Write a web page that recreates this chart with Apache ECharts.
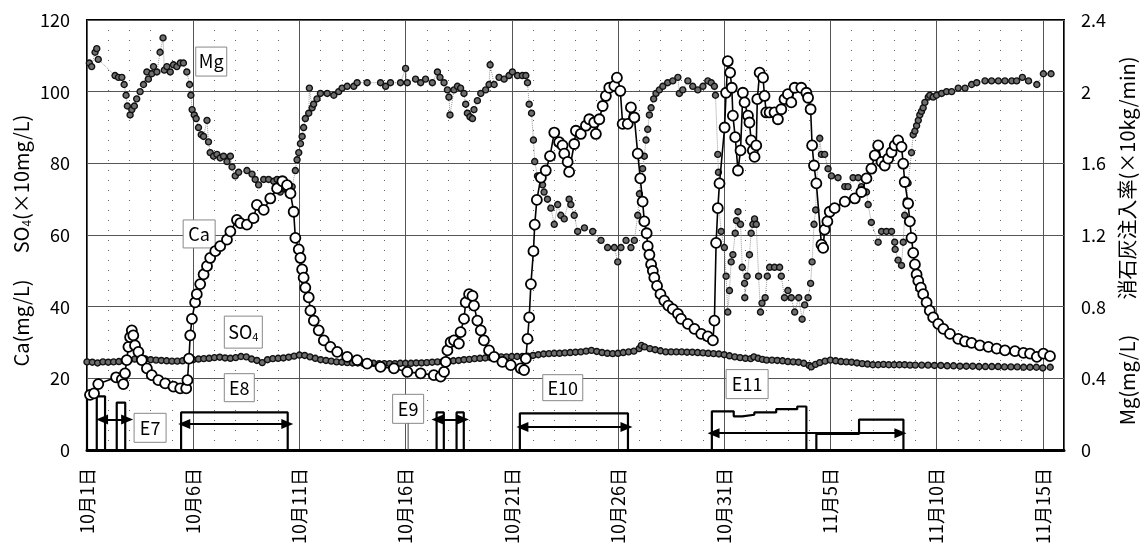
<!DOCTYPE html>
<html>
<head>
<meta charset="utf-8">
<script src="https://cdn.jsdelivr.net/npm/echarts@6/dist/echarts.min.js"></script>
<style>
html,body{margin:0;padding:0;background:#fff}
#chart{width:1141px;height:547px}
</style>
</head>
<body>
<div id="chart"></div>
<script>
// x axis: days counted from 10月1日 (day 0); labels every 5 days
const dateLabels = ['10月1日','10月6日','10月11日','10月16日','10月21日','10月26日','10月31日','11月5日','11月10日','11月15日'];
const rightTickLabels = ['0','0.4','0.8','1.2','1.6','2','2.4'];

// Ca (mg/L) : [day, value]
const caData = [
[0.14,15.4],[0.33,15.8],[0.53,18.4],[1.37,20.3],[1.64,19.7],[1.71,18.4],[1.79,21.4],[1.87,25.1],[1.95,28.8],[2.03,31.5],[2.11,33.4],[2.18,32],[2.26,29.2],[2.42,27.4],[2.58,25.1],[2.82,22.8],[3.05,20.9],[3.36,19.5],[3.68,18.6],[4.07,17.7],[4.39,17.2],[4.67,17.2],[4.73,19.5],[4.8,25.5],[4.86,32],[4.94,36.6],[5.09,41.2],[5.17,43.5],[5.33,46.3],[5.49,49],[5.65,51.3],[5.8,53.6],[6.04,55.5],[6.27,56.9],[6.59,58.7],[6.75,61],[7.06,64.2],[7.22,63.3],[7.53,62.9],[7.84,64.7],[8.0,68.4],[8.32,67],[8.63,70.2],[8.95,73],[9.2,75],[9.42,73.9],[9.58,71.6],[9.73,66.5],[9.81,59.2],[9.97,56],[10.05,53.6],[10.13,50.4],[10.2,48.1],[10.28,45.3],[10.44,42.6],[10.52,38.9],[10.68,36.1],[10.91,33.4],[11.15,30.6],[11.46,28.8],[11.78,27.4],[12.25,26],[12.72,25.1],[13.19,24.1],[13.82,23.2],[14.45,22.8],[15.08,21.8],[15.71,21.4],[16.33,20.9],[16.65,20.5],[16.81,21.8],[16.89,24.6],[16.97,27.8],[17.12,30.1],[17.28,30.6],[17.51,29.7],[17.59,32.9],[17.75,36.6],[17.83,41.2],[17.99,43.5],[18.15,43],[18.22,40.3],[18.38,36.1],[18.54,33.4],[18.69,30.6],[18.93,27.8],[19.17,26],[19.56,24.6],[19.95,23.7],[20.42,22.8],[20.58,22.3],[20.66,25.5],[20.74,31],[20.82,37],[20.9,46.3],[21.02,55.5],[21.08,62.9],[21.18,69.8],
[21.37,76],[21.6,78],[21.8,82],[22.0,88.6],[22.23,85.9],[22.39,85],[22.47,82.7],[22.63,80.4],[22.7,77.6],[22.94,85.4],[23.02,89.1],[23.25,88.2],[23.49,90.5],[23.65,92.3],[23.88,91.4],[23.96,88.2],[24.12,92.3],[24.28,96],[24.43,98.8],[24.59,101.1],[24.83,101.6],[24.95,103.9],[25.11,100.2],[25.22,91],[25.46,91],[25.61,95.6],[25.77,92.8],[25.93,82.7],[26.05,75.8],[26.16,69.3],[26.24,63.8],[26.35,60.5],[26.4,56.9],[26.48,54.5],[26.56,51.8],[26.64,50],[26.71,48.1],[26.84,45.8],[27.0,43.5],[27.18,41.7],[27.37,40.3],[27.58,39.3],[27.82,38],[27.97,36.6],[28.29,35.2],[28.6,33.8],[28.92,32.4],[29.23,31.7],[29.47,30.6],[29.54,36.1],[29.62,57.8],[29.7,67.5],[29.78,74.4],[30.02,90],[30.09,99.7],[30.17,108.5],[30.28,105.3],[30.36,101.1],[30.41,93.3],[30.52,87.3],[30.65,78],[30.77,83.6],[30.88,99.7],[30.96,97],[31.12,93.3],[31.19,91.4],[31.27,86.4],[31.35,83.6],[31.43,81.8],[31.51,85],[31.56,97.9],[31.67,105.3],[31.83,103.9],[31.9,98.8],[31.98,94.2],[32.14,94.2],[32.37,94.2],[32.53,92.3],[32.69,95.1],[32.84,97.9],[33.0,99.3],[33.16,97],[33.32,101.1],[33.63,101.1],[33.87,99.7],[33.95,98.3],[34.07,95.1],[34.14,85],[34.23,79.4],[34.34,74.4],[34.58,57.3],[34.66,56.4],[34.73,61.5],[34.86,63.8],[34.97,66.5],[35.2,67.5],[35.68,69.3],[36.15,70.2],[36.46,72],[36.7,75.8],[36.93,78.5],[37.09,82.2],[37.25,85],[37.41,80.4],[37.56,79.4],[37.72,81.3],[37.88,83.1],[38.03,85],[38.19,86.4],[38.35,84.6],[38.43,79.9],[38.5,74.8],[38.66,68.8],[38.74,63.8],[38.82,59.2],[38.9,55],[38.98,51.8],[39.06,49],[39.14,47.2],[39.26,45.3],[39.37,43.5],[39.53,41.2],[39.68,38.9],[39.84,37],[40.08,35.2],[40.32,33.8],[40.63,32.4],[41.02,31],[41.34,30.3],[41.65,29.9],[42.04,29.2],[42.44,28.8],[42.83,28.3],[43.22,27.8],[43.69,27.6],[44.09,27.1],[44.4,26.9],[44.72,26],[45.03,26.9],[45.34,26.2]
];

// SO4 (×10mg/L) : [day, value]
const so4Data = [
[0,24.6],[0.25,24.5],[0.5,24.3],[0.75,24.6],[1,24.5],[1.25,24.6],[1.5,24.7],[1.75,24.9],[2,25.1],[2.25,25.4],[2.5,25.6],[2.75,25.4],[3,25.2],[3.25,25.1],[3.5,25],[3.75,24.9],[4,24.8],[4.25,24.8],[4.5,24.9],[4.75,25.1],[5,25.2],[5.25,25.4],[5.5,25.5],[5.75,25.6],[6,25.8],[6.25,25.9],[6.5,25.7],[6.75,25.6],[7,25.8],[7.25,26.1],[7.5,26],[7.75,25.4],[8,25],[8.25,24.4],[8.5,25.2],[8.75,25.5],[9,25.6],[9.25,25.7],[9.5,25.9],[9.75,26.2],[10,26.5],[10.25,26.4],[10.5,26],[10.75,25.6],[11,25.2],[11.25,25],[11.5,24.8],[11.75,24.6],[12,24.5],[12.25,24.4],[12.5,24.3],[12.75,24.3],[13,24.2],[13.25,24.2],[13.5,24.2],[13.75,24.1],[14,24.1],[14.25,24.1],[14.5,24.1],[14.75,24.2],[15,24.2],[15.25,24.2],[15.5,24.3],[15.75,24.3],[16,24.4],[16.25,24.5],[16.5,24.6],[16.75,24.7],[17,24.8],[17.25,24.9],[17.5,25],[17.75,25.2],[18,25.3],[18.25,25.5],[18.5,25.6],[18.75,25.7],[19,25.8],[19.25,25.9],[19.5,26],[19.75,26],[20,26.1],[20.25,26.1],[20.5,26.1],[20.75,26.2],[21,26.4],[21.25,26.6],[21.5,26.8],[21.75,26.9],[22,27],[22.25,27],[22.5,27.1],[22.75,27.2],[23,27.3],[23.25,27.4],[23.5,27.6],[23.75,27.8],[24,27.5],[24.25,27.2],[24.5,27],[24.75,26.9],[25,27],[25.25,27.2],[25.5,27.4],[25.75,27.6],[26,28.3],[26.1,29.2],[26.25,28.8],[26.5,28.3],[26.75,28],[27,27.7],[27.25,27.4],[27.5,27.4],[27.75,27.4],[28,27.4],[28.25,27.3],[28.5,27.3],[28.75,27.2],[29,27.1],[29.25,27],[29.5,26.9],[29.75,26.8],[30,26.6],[30.25,26.3],[30.5,26],[30.75,25.8],[31,25.6],[31.25,25.5],[31.4,26],[31.6,25.6],[31.8,25.3],[32,25.1],[32.25,25.1],[32.5,25],[32.75,24.9],[33,24.7],[33.25,24.6],[33.5,24.5],[33.75,24.2],[34,23.6],[34.1,23.2],[34.3,23.9],[34.5,24.4],[34.75,24.8],[35,25.1],[35.25,24.9],[35.5,24.7],[35.75,24.6],[36,24.5],[36.25,24.3],[36.5,24.1],[36.75,24],[37,23.8],[37.25,23.8],[37.5,23.9],[37.75,23.8],[38,23.8],[38.25,23.8],[38.5,23.8],[38.75,23.7],[39,23.7],[39.3,23.7],[39.6,23.7],[39.9,23.6],[40.2,23.6],[40.5,23.5],[40.8,23.5],[41.1,23.4],[41.4,23.4],[41.7,23.4],[42,23.3],[42.3,23.3],[42.6,23.3],[42.9,23.3],[43.2,23.2],[43.5,23.2],[43.8,23.2],[44.1,23.1],[44.4,23.1],[44.7,23.1],[45,22.9],[45.35,23.1]
];

// Mg (mg/L, right axis) : [day, value]
const mgData = [
[0.11,2.16],[0.22,2.14],[0.38,2.22],[0.46,2.24],[0.53,2.18],[1.32,2.09],[1.48,2.08],[1.64,2.08],[1.75,2.04],[1.84,1.98],[1.9,1.92],[2.03,1.87],[2.11,1.9],[2.23,1.92],[2.34,1.96],[2.5,2.0],[2.66,2.04],[2.82,2.11],[2.89,2.07],[3.05,2.1],[3.13,2.14],[3.29,2.11],[3.44,2.22],[3.58,2.3],[3.64,2.12],[3.76,2.14],[3.92,2.11],[4.07,2.15],[4.23,2.14],[4.39,2.16],[4.54,2.16],[4.7,2.11],[4.83,2.04],[4.89,1.98],[4.95,1.9],[5.05,1.87],[5.14,1.85],[5.25,1.8],[5.38,1.76],[5.49,1.75],[5.65,1.84],[5.72,1.72],[5.8,1.66],[5.96,1.64],[6.12,1.65],[6.27,1.63],[6.43,1.64],[6.59,1.61],[6.75,1.64],[6.83,1.58],[6.98,1.53],[7.14,1.55],[7.53,1.56],[7.77,1.54],[7.92,1.51],[8.08,1.48],[8.32,1.51],[8.55,1.51],[8.79,1.5],[8.95,1.51],[9.02,1.46],[9.1,1.44],[9.26,1.46],[9.42,1.45],[9.66,1.47],[9.81,1.56],[9.89,1.62],[9.97,1.66],[10.05,1.71],[10.13,1.75],[10.2,1.8],[10.28,1.85],[10.44,1.88],[10.47,2.02],[10.6,1.91],[10.67,1.93],[10.83,1.96],[10.99,1.99],[11.31,1.99],[11.62,1.98],[11.85,2.0],[12.01,2.02],[12.25,2.03],[12.56,2.03],[12.72,2.05],[13.19,2.05],[13.82,2.05],[14.06,2.03],[14.29,2.05],[14.76,2.05],[15.0,2.13],[15.08,2.05],[15.47,2.07],[15.71,2.05],[15.94,2.07],[16.26,2.05],[16.5,2.11],[16.62,2.08],[16.81,2.05],[16.97,2.01],[17.04,1.97],[17.09,1.87],[17.28,2.01],[17.44,2.03],[17.59,2.02],[17.75,1.99],[17.83,1.93],[17.91,1.88],[18.03,1.86],[18.15,1.85],[18.22,1.9],[18.38,1.95],[18.54,1.99],[18.77,2.01],[18.93,2.04],[18.98,2.15],[19.17,2.04],[19.4,2.08],[19.64,2.07],[19.87,2.09],[20.03,2.11],[20.27,2.09],[20.5,2.09],[20.66,2.09],[20.74,2.05],[20.82,1.93],[20.93,1.88],[21.02,1.73],[21.08,1.61],[21.21,1.53],[21.45,1.48],[21.52,1.44],[21.68,1.4],[21.84,1.35],[22.0,1.26],[22.16,1.37],[22.31,1.31],[22.47,1.29],[22.7,1.4],[22.78,1.37],[22.94,1.31],[23.1,1.22],[23.42,1.24],[23.81,1.22],[24.2,1.17],[24.51,1.13],[24.83,1.13],[24.99,1.05],[25.14,1.13],[25.38,1.17],[25.61,1.13],[25.77,1.17],[25.93,1.31],[26.01,1.43],[26.08,1.52],[26.16,1.57],[26.24,1.64],[26.32,1.73],[26.4,1.79],[26.48,1.87],[26.56,1.91],[26.68,1.96],[26.79,1.99],[26.95,2.01],[27.11,2.03],[27.34,2.05],[27.58,2.06],[27.82,2.08],[27.89,1.99],[28.05,2.01],[28.29,2.06],[28.52,2.03],[28.76,2.01],[29.0,2.03],[29.23,2.06],[29.39,2.05],[29.54,2.03],[29.59,1.98],[29.7,1.65],[29.73,1.55],[29.75,1.35],[29.86,1.22],[30.01,1.13],[30.09,0.97],[30.17,0.77],[30.25,0.89],[30.33,1.05],[30.41,1.09],[30.52,1.21],[30.58,1.28],[30.65,1.33],[30.77,1.26],[30.85,1.02],[30.96,0.93],[30.97,0.85],[31.08,0.97],[31.19,1.09],[31.27,1.21],[31.35,1.26],[31.43,1.29],[31.51,1.26],[31.62,0.97],[31.71,0.77],[31.78,0.82],[31.93,0.85],[32.03,0.97],[32.14,1.02],[32.37,1.02],[32.61,1.02],[32.69,0.97],[32.84,0.85],[33.0,0.89],[33.16,0.85],[33.32,0.77],[33.51,0.85],[33.67,0.73],[33.79,0.81],[33.95,0.85],[34.07,0.93],[34.14,1.05],[34.23,1.26],[34.31,1.34],[34.35,1.49],[34.5,1.74],[34.58,1.65],[34.73,1.65],[34.89,1.57],[35.05,1.53],[35.36,1.52],[35.68,1.47],[35.83,1.47],[36.07,1.52],[36.31,1.52],[36.46,1.47],[36.7,1.44],[36.78,1.37],[36.93,1.27],[37.25,1.16],[37.41,1.22],[37.64,1.22],[37.88,1.22],[38.03,1.16],[38.05,1.12],[38.19,1.06],[38.35,1.03],[38.43,1.16],[38.5,1.31],[38.58,1.39],[38.66,1.49],[38.82,1.66],[38.9,1.76],[38.98,1.78],[39.06,1.81],[39.14,1.84],[39.21,1.87],[39.29,1.89],[39.37,1.91],[39.45,1.94],[39.61,1.97],[39.68,1.98],[39.84,1.97],[40.0,1.98],[40.24,1.99],[40.47,2.0],[40.71,2.0],[41.02,2.02],[41.34,2.02],[41.65,2.04],[41.89,2.05],[42.28,2.06],[42.59,2.06],[42.91,2.06],[43.22,2.06],[43.54,2.06],[43.77,2.06],[44.04,2.08],[44.33,2.06],[44.72,2.04],[45.03,2.1],[45.39,2.1]
];

// slaked lime dosing (×10kg/min, right axis): each block is a run of [start, end, rate]
const doseBlocks = [
  [[0.0, 0.46, 0.30]],
  [[0.46, 0.85, 0.30]],
  [[1.4, 1.8, 0.265]],
  [[4.43, 9.45, 0.21]],
  [[16.46, 16.8, 0.21]],
  [[17.4, 17.74, 0.21]],
  [[20.38, 25.47, 0.205]],
  [[29.42, 30.45, 0.216],[30.45, 30.85, 0.188],[30.85, 31.42, 0.197],[31.42, 32.45, 0.21],[32.45, 33.44, 0.228],[33.44, 33.87, 0.243]],
  [[34.34, 36.35, 0.09],[36.35, 38.44, 0.17]]
];
// experiment periods: [from day, to day, height on right axis]
const periodArrows = [
  [0.71, 1.89, 0.171],
  [4.58, 9.43, 0.145],
  [16.5, 17.7, 0.171],
  [20.5, 25.4, 0.129],
  [29.5, 38.3, 0.094]
];
// boxed labels placed in data units of the left axis
const notes = [
  {text:'Mg',  day:5.85,  val:108.4, w:31, h:29},
  {text:'Ca',  day:5.28,  val:60.3,  w:32, h:28},
  {text:'{n|SO}{s|4}', day:7.36, val:32.9, w:38, h:32},
  {text:'E8',  day:7.17,  val:17.4,  w:30, h:28},
  {text:'E7',  day:2.97,  val:6.2,   w:32, h:29},
  {text:'E9',  day:15.12, val:11.5,  w:31, h:29, lead:true},
  {text:'E10', day:22.4,  val:17.4,  w:40, h:26},
  {text:'E11', day:31.08, val:18.4,  w:42, h:29}
];

const FONT = '"Noto Sans CJK JP", "Noto Sans", sans-serif';

function dosePath() {
  const pts = [];
  doseBlocks.forEach(b => {
    pts.push([b[0][0], 0]);
    b.forEach(([s, e, r]) => { pts.push([s, r]); pts.push([e, r]); });
    pts.push([b[b.length - 1][1], 0]);
  });
  return pts;
}

const chart = echarts.init(document.getElementById('chart'), null, {renderer: 'canvas'});

const smallDot = {
  type: 'line', symbol: 'circle', symbolSize: 6, showAllSymbol: true,
  itemStyle: {color: '#6e6e6e', borderColor: '#111', borderWidth: 1.4},
  lineStyle: {color: '#999', width: 1, type: 'dotted'}
};

chart.setOption({
  animation: false,
  backgroundColor: '#fff',
  grid: {left: 87, right: 77, top: 20, bottom: 93, show: true, borderColor: '#000', borderWidth: 2},
  xAxis: {
    type: 'value', min: 0, max: 46, interval: 5,
    axisLine: {show: true, onZero: false, lineStyle: {color: '#000', width: 3}},
    axisTick: {show: false},
    axisLabel: {
      rotate: 90, margin: 18, color: '#000', fontSize: 18, fontFamily: FONT,
      showMaxLabel: false,
      formatter: v => dateLabels[Math.round(v / 5)] || ''
    },
    splitLine: {show: true, lineStyle: {color: '#555', width: 1}},
    minorTick: {show: false, splitNumber: 5},
    minorSplitLine: {show: true, lineStyle: {color: '#666', width: 1, type: [1, 9]}}
  },
  yAxis: [
    {
      type: 'value', min: 0, max: 120, interval: 20,
      axisLine: {show: false}, axisTick: {show: false},
      axisLabel: {margin: 17, color: '#000', fontSize: 18, fontFamily: FONT},
      splitLine: {show: true, lineStyle: {color: '#555', width: 1}}
    },
    {
      type: 'value', min: 0, max: 2.4, interval: 0.4, position: 'right',
      axisLine: {show: false}, axisTick: {show: false},
      axisLabel: {margin: 17, color: '#000', fontSize: 18, fontFamily: FONT,
        formatter: v => rightTickLabels[Math.round(v / 0.4)]},
      splitLine: {show: false}
    }
  ],
  series: [
    {
      name: '消石灰注入率', type: 'line', yAxisIndex: 1, data: dosePath(),
      showSymbol: false, lineStyle: {color: '#000', width: 2.2}, z: 3,
      markLine: {
        silent: true, symbol: ['triangle', 'triangle'], symbolSize: [10, 12],
        label: {show: false},
        lineStyle: {color: '#000', width: 2, type: 'solid'},
        data: periodArrows.map(([a, b, y]) => [{coord: [a, y]}, {coord: [b, y]}])
      }
    },
    Object.assign({}, smallDot, {name: 'SO4', yAxisIndex: 0, data: so4Data, z: 4}),
    Object.assign({}, smallDot, {name: 'Mg', yAxisIndex: 1, data: mgData, z: 5}),
    {
      name: 'Ca', type: 'line', yAxisIndex: 0, data: caData, z: 6,
      symbol: 'circle', symbolSize: 10, showAllSymbol: true,
      itemStyle: {color: '#fff', borderColor: '#000', borderWidth: 1.8},
      lineStyle: {color: '#000', width: 1.6}
    }
  ]
});

// boxed labels, axis titles
const boxRich = {
  n: {fontSize: 18, fontFamily: FONT, lineHeight: 20},
  s: {fontSize: 11, fontFamily: FONT, lineHeight: 20, verticalAlign: 'bottom', padding: [6, 0, 0, 0]}
};
const titleRich = {
  n: {fontSize: 20, fontFamily: FONT, lineHeight: 22},
  s: {fontSize: 12, fontFamily: FONT, lineHeight: 22, verticalAlign: 'bottom', padding: [7, 0, 0, 0]}
};
const graphics = [];
notes.forEach(n => {
  const p = chart.convertToPixel({xAxisIndex: 0, yAxisIndex: 0}, [n.day, n.val]);
  const base = chart.convertToPixel({xAxisIndex: 0, yAxisIndex: 0}, [n.day, 0]);
  if (n.lead) {
    graphics.push({type: 'line', z: 20, shape: {x1: p[0], y1: p[1] + n.h / 2, x2: p[0], y2: base[1]},
      style: {stroke: '#444', lineWidth: 1}});
  }
  graphics.push({
    type: 'group', x: p[0], y: p[1], z: 20,
    children: [
      {type: 'rect', shape: {x: -n.w / 2, y: -n.h / 2, width: n.w, height: n.h},
        style: {fill: '#fff', stroke: '#888', lineWidth: 1}},
      {type: 'text', style: {text: n.text.indexOf('{') >= 0 ? n.text : '{n|' + n.text + '}', x: 0, y: 0,
        align: 'center', verticalAlign: 'middle', fill: '#000', rich: boxRich}}
    ]
  });
});
const title = (text, x, y) => ({
  type: 'text', x: x, y: y, rotation: Math.PI / 2, z: 20,
  style: {text: text, align: 'center', verticalAlign: 'middle', fill: '#000', rich: titleRich}
});
graphics.push(title('{n|Ca(mg/L)}', 21, 323));
graphics.push(title('{n|SO}{s|4}{n|(×10mg/L)}', 21, 184));
graphics.push(title('{n|Mg(mg/L)}', 1127, 380));
graphics.push(title('{n|消石灰注入率(×10kg/min)}', 1127, 178));
chart.setOption({graphic: graphics});
</script>
</body>
</html>
